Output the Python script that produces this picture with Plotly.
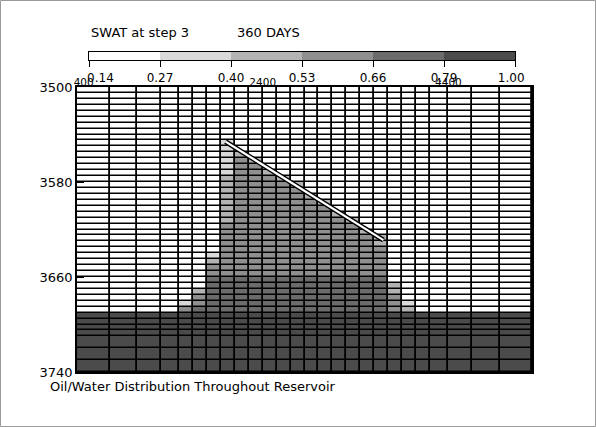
import plotly.graph_objects as go

# ---------------- data ----------------
x_edges = [400, 750, 1050, 1300, 1500, 1650, 1800, 1950, 2100, 2250, 2400, 2550, 2700,
           2850, 3000, 3150, 3300, 3450, 3600, 3750, 3900, 4050, 4200, 4400, 4650, 4950, 5300]
y_edges = [3500, 3505, 3510, 3515, 3520, 3525, 3530, 3535, 3540, 3545, 3550, 3555, 3560,
           3565, 3570, 3575, 3580, 3585, 3590, 3595, 3600, 3605, 3610, 3615, 3620, 3625,
           3630, 3635, 3640, 3645, 3650, 3655, 3660, 3665, 3670, 3675, 3680, 3685, 3690,
           3695, 3700, 3705, 3710, 3720, 3730, 3740]

# SWAT class of each cell (row = layer from top, char = column)
cell_class_rows = [
    "00000000000000000000000000",
    "00000000000000000000000000",
    "00000000000000000000000000",
    "00000000000000000000000000",
    "00000000000000000000000000",
    "00000000000000000000000000",
    "00000000000000000000000000",
    "00000000000000000000000000",
    "00000000000000000000000000",
    "00000001000000000000000000",
    "00000001000000000000000000",
    "00000001200000000000000000",
    "00000001320000000000000000",
    "00000001330000000000000000",
    "00000001332000000000000000",
    "00000002333200000000000000",
    "00000002333320000000000000",
    "00000002333330000000000000",
    "00000002333332000000000000",
    "00000002333333200000000000",
    "00000002333333300000000000",
    "00000002333333320000000000",
    "00000002333333332000000000",
    "00000003333333333000000000",
    "00000003333333333200000000",
    "00000003333333333320000000",
    "00000003333333333320000000",
    "00000003333333333330000000",
    "00000013333333333330000000",
    "00000023333333333330000000",
    "00000033333333333330000000",
    "00000033333333333330000000",
    "00000044444444444440000000",
    "00000044444444444442000000",
    "00000244444444444442000000",
    "00000344444444444443000000",
    "00001344444444444443100000",
    "00003444444444444443200000",
    "55555555555555555555555555",
    "55555555555555555555555555",
    "55555555555555555555555555",
    "55555555555555555555555555",
    "55555555555555555555555555",
    "55555555555555555555555555",
    "55555555555555555555555555",
]
class_swat = [0.20, 0.33, 0.46, 0.60, 0.72, 0.90]   # representative SWAT per class

legend_bounds = [0.14, 0.27, 0.40, 0.53, 0.66, 0.79, 1.00]
legend_labels = ["0.14", "0.27", "0.40", "0.53", "0.66", "0.79", "1.00"]
class_colors = ["#ffffff", "#d9d9d9", "#b3b3b3", "#8f8f8f", "#6b6b6b", "#4b4b4b"]

well_x = [2000, 3700]
well_y = [3546, 3629]

x_ticks = [400, 2400, 4400]
y_ticks = [3500, 3580, 3660, 3740]

title_left = "SWAT at step 3"
title_right = "360 DAYS"
caption = "Oil/Water Distribution Throughout Reservoir"

# ---------------- build ----------------
z = [[class_swat[int(ch)] for ch in row] for row in cell_class_rows]

zmin, zmax = legend_bounds[0], legend_bounds[-1]
colorscale = []
for i, col in enumerate(class_colors):
    a = (legend_bounds[i] - zmin) / (zmax - zmin)
    b = (legend_bounds[i + 1] - zmin) / (zmax - zmin)
    colorscale.append([a, col])
    colorscale.append([b, col])

FONT = "DejaVu Sans"
NB = "\u00a0"

# label texts (padding only nudges the first/last label like the original)
x_tick_text = [str(v) for v in x_ticks]
x_tick_text[0] = NB * 4 + x_tick_text[0]
leg_tick_text = list(legend_labels)
leg_tick_text[0] = NB * 6 + leg_tick_text[0]
leg_tick_text[-1] = leg_tick_text[-1] + NB * 2

fig = go.Figure()

fig.add_trace(go.Heatmap(
    x=x_edges, y=y_edges, z=z, zmin=zmin, zmax=zmax, colorscale=colorscale,
    showscale=False, xgap=1.8, ygap=1.5, hoverinfo="skip",
    xaxis="x", yaxis="y"))

# well trajectory (black outline, white core)
fig.add_trace(go.Scatter(x=well_x, y=well_y, mode="lines",
                         line=dict(color="black", width=5), hoverinfo="skip",
                         showlegend=False, xaxis="x", yaxis="y"))
fig.add_trace(go.Scatter(x=well_x, y=well_y, mode="lines",
                         line=dict(color="white", width=2.2), hoverinfo="skip",
                         showlegend=False, xaxis="x", yaxis="y"))

# invisible trace carrying the top distance axis labels
fig.add_trace(go.Scatter(x=[x_edges[0], x_edges[-1]], y=[y_edges[0], y_edges[0]],
                         mode="lines", line=dict(width=0), hoverinfo="skip",
                         showlegend=False, xaxis="x3", yaxis="y"))

# legend colour bar (equal-width classes)
fig.add_trace(go.Heatmap(
    x=list(range(len(legend_bounds))), y=[0, 1],
    z=[[class_swat[i] for i in range(len(class_colors))]],
    zmin=zmin, zmax=zmax, colorscale=colorscale, showscale=False,
    hoverinfo="skip", xaxis="x2", yaxis="y2"))

W, H = 596, 427
ml, mr, mt, mb = 77, 64, 40, 55
pw, ph = W - ml - mr, H - mt - mb


def px_x(px):
    return (px - ml) / pw


def px_y(py):
    return (H - mb - py) / ph


fig.update_layout(
    width=W, height=H,
    margin=dict(l=ml, r=mr, t=mt, b=mb),
    paper_bgcolor="white",
    plot_bgcolor="black",
    showlegend=False,
    font=dict(family=FONT, color="black", size=12),
    xaxis=dict(domain=[0, 1], range=[x_edges[0], x_edges[-1]], side="top",
               showticklabels=False, ticks="", showgrid=False, zeroline=False,
               showline=True, linecolor="black", linewidth=1.5, mirror=True),
    xaxis3=dict(overlaying="x", anchor="free", position=px_y(88), side="top",
                range=[x_edges[0], x_edges[-1]],
                tickvals=x_ticks, ticktext=x_tick_text,
                ticks="", showgrid=False, zeroline=False, showline=False,
                tickfont=dict(size=10.5, family=FONT), ticklabelstandoff=0),
    yaxis=dict(domain=[0, px_y(87)], range=[y_edges[-1], y_edges[0]],
               tickvals=y_ticks, ticktext=[str(v) for v in y_ticks],
               ticks="inside", ticklen=7, tickwidth=1.5, tickcolor="black",
               showgrid=False, zeroline=False,
               showline=True, linecolor="black", linewidth=1.5, mirror=True,
               tickfont=dict(size=13, family=FONT)),
    xaxis2=dict(domain=[px_x(89), px_x(515)], range=[0, len(legend_bounds) - 1],
                anchor="y2", tickvals=list(range(len(legend_bounds))),
                ticktext=leg_tick_text, ticks="outside", ticklen=6,
                tickwidth=1.2, tickcolor="black", showgrid=False, zeroline=False,
                showline=True, linecolor="black", linewidth=1.2, mirror=True,
                tickfont=dict(size=12, family=FONT), ticklabelstandoff=0),
    yaxis2=dict(domain=[px_y(60), px_y(51.5)], range=[0, 1], anchor="x2",
                showticklabels=False, ticks="", showgrid=False, zeroline=False,
                showline=True, linecolor="black", linewidth=1.2, mirror=True),
    annotations=[
        dict(text=title_left, xref="paper", yref="paper", x=px_x(89), y=px_y(33),
             xanchor="left", yanchor="middle", showarrow=False,
             font=dict(size=13, family=FONT)),
        dict(text=title_right, xref="paper", yref="paper", x=px_x(235), y=px_y(33),
             xanchor="left", yanchor="middle", showarrow=False,
             font=dict(size=13, family=FONT)),
        dict(text=caption, xref="paper", yref="paper", x=px_x(48), y=px_y(387),
             xanchor="left", yanchor="middle", showarrow=False,
             font=dict(size=13, family=FONT)),
    ],
    shapes=[
        dict(type="rect", xref="paper", yref="paper",
             x0=px_x(0.5), x1=px_x(W - 0.5), y0=px_y(H - 0.5), y1=px_y(0.5),
             line=dict(color="#9a9a9a", width=1), layer="below"),
    ],
)

fig.write_html("out.html")
